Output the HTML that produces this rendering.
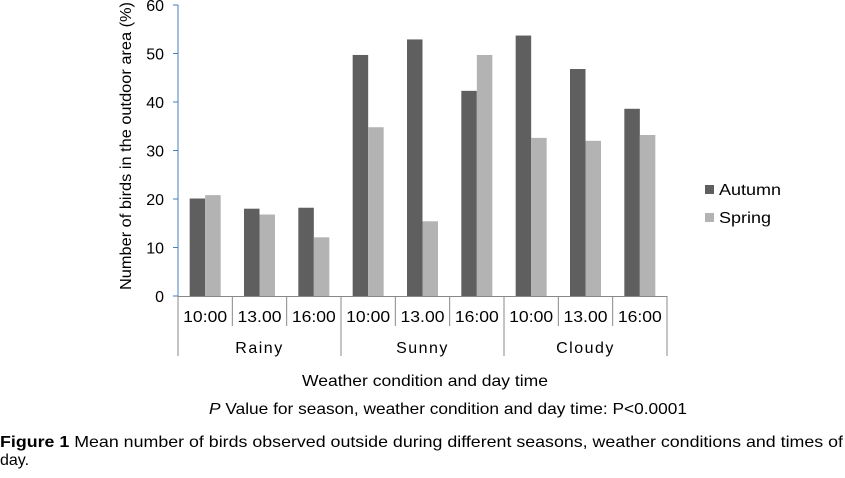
<!DOCTYPE html>
<html><head><meta charset="utf-8"><style>
body{margin:0;background:#fff;width:845px;height:473px;overflow:hidden;font-family:"Liberation Sans",Arial,sans-serif}
svg text{font-family:"Liberation Sans",Arial,sans-serif;fill:#000}
</style></head><body>
<svg width="845" height="473">
<g id="plot"></g>
<text x="0" y="0" font-size="16" text-anchor="middle" textLength="288" lengthAdjust="spacingAndGlyphs" transform="translate(131,146) rotate(-90)">Number of birds in the outdoor area (%)</text>
<text x="425" y="386" font-size="16" text-anchor="middle" textLength="246" lengthAdjust="spacingAndGlyphs">Weather condition and day time</text>
<text x="448" y="414" font-size="16" text-anchor="middle" textLength="478" lengthAdjust="spacingAndGlyphs"><tspan font-style="italic">P</tspan> Value for season, weather condition and day time: P&lt;0.0001</text>
<text x="0" y="447" font-size="16" textLength="843" lengthAdjust="spacingAndGlyphs"><tspan font-weight="bold">Figure 1</tspan> Mean number of birds observed outside during different seasons, weather conditions and times of</text>
<text x="0" y="465" font-size="16">day.</text>
<rect x="705" y="185" width="9" height="9" fill="#5f5f5f"/>
<text x="719" y="195" font-size="16" textLength="62" lengthAdjust="spacingAndGlyphs">Autumn</text>
<rect x="705" y="213" width="9" height="9" fill="#b3b3b3"/>
<text x="719" y="223" font-size="16" textLength="52" lengthAdjust="spacingAndGlyphs">Spring</text>
</svg>
<script>
const times=["10:00","13.00","16:00","10:00","13.00","16:00","10:00","13.00","16:00"];
const groups=["Rainy","Sunny","Cloudy"];
const autumn=[20.1,18.0,18.2,49.7,52.9,42.3,53.7,46.8,38.6];
const spring=[20.8,16.8,12.1,34.8,15.4,49.7,32.6,32.0,33.2];
const yTicks=[0,10,20,30,40,50,60];
const NS="http://www.w3.org/2000/svg";
const g=document.getElementById('plot');
const x0=178,x1=667,y0=296,yTop=5,yMax=60;
const cw=(x1-x0)/times.length;
const yS=v=>y0-(v/yMax)*(y0-yTop);
const xS=i=>x0+i*cw;
function mk(t,a){const e=document.createElementNS(NS,t);for(const k in a)e.setAttribute(k,a[k]);g.appendChild(e);return e;}
const bw=15.5;
autumn.forEach((v,i)=>{const r=mk('rect',{x:xS(i)+cw/2-bw,y:yS(v),width:bw,height:y0-yS(v),fill:'#5f5f5f'});

});
spring.forEach((v,i)=>{const r=mk('rect',{x:xS(i)+cw/2,y:yS(v),width:bw,height:y0-yS(v),fill:'#b3b3b3'});

});
const ya=mk('line',{x1:x0,y1:yTop,x2:x0,y2:y0,stroke:'#4a7ebb','stroke-width':1});


yTicks.forEach(t=>{mk('line',{x1:x0-5,y1:yS(t),x2:x0,y2:yS(t),stroke:'#4a7ebb'});
const tx=mk('text',{x:x0-14,y:yS(t)+6,'font-size':16,'text-anchor':'end'});tx.textContent=t;

});
const xa=mk('line',{x1:x0,y1:y0+0.5,x2:x1,y2:y0+0.5,stroke:'#888'});


for(let i=0;i<=times.length;i++){const big=i%3===0;mk('line',{x1:xS(i),y1:y0,x2:xS(i),y2:big?356:326,stroke:'#888'});}
times.forEach((t,i)=>{const tx=mk('text',{x:xS(i)+cw/2,y:322,'font-size':16,'text-anchor':'middle',textLength:44,lengthAdjust:'spacingAndGlyphs'});tx.textContent=t;

});
groups.forEach((t,i)=>{const tx=mk('text',{x:xS(i*3)+cw*1.5,y:353,'font-size':16,'text-anchor':'middle','letter-spacing':'1.5'});tx.textContent=t;

});
</script>
</body></html>
